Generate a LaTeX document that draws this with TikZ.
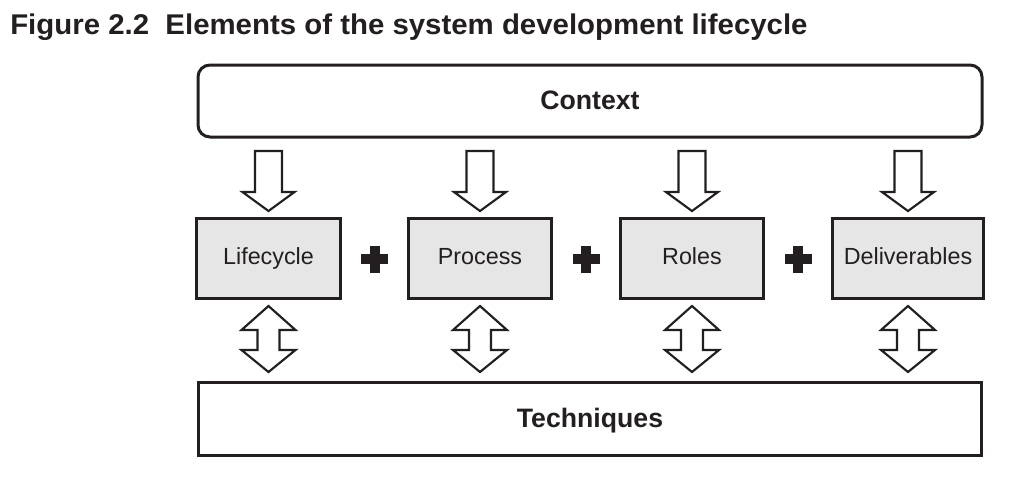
\documentclass[tikz,border=0pt]{standalone}
\usepackage{fontspec}
\setmainfont{Liberation Sans}
\usepackage{graphicx}
\definecolor{ink}{HTML}{231F20}
\definecolor{boxgray}{HTML}{E6E6E6}
\tikzset{
  elembox/.style={draw=ink, line width=2.25pt, fill=boxgray, minimum height=60pt, inner sep=0pt, font=\fontsize{17.5}{20}\selectfont, text=ink, text height=0.86em, text depth=0em},
  bigbox/.style={draw=ink, line width=2.25pt, fill=white, inner sep=0pt, font=\fontsize{20}{24}\selectfont\bfseries, text=ink, text height=1.2em, text depth=0em},
  blockarrow/.style={draw=ink, line width=1.6pt, fill=white, line join=miter},
  plusmark/.style={fill=ink, draw=none},
}
\begin{document}
\begin{tikzpicture}[x=0.75pt,y=-0.75pt]
\useasboundingbox (0,0) rectangle (1014,483);
% title
\node[anchor=base west, inner sep=0pt, text=ink] (title) at (10,34)
  {\resizebox{598pt}{15.5pt}{\fontsize{21}{25}\selectfont\bfseries Figure 2.2\ \ Elements of the system development lifecycle}};
% context and techniques
\node[bigbox, rounded corners=9pt, minimum width=588pt, minimum height=54pt] (ctx) at (590,101) {Context};
\node[bigbox, line width=2.4pt, minimum width=587.25pt, minimum height=54.75pt] (tech) at (590,419) {Techniques};
% element boxes
\node[elembox, minimum width=108pt] (L) at (268.5,258.5) {Lifecycle};
\node[elembox, minimum width=107.25pt] (P) at (480,258.5) {Process};
\node[elembox, minimum width=107.25pt] (R) at (692,258.5) {Roles};
\node[elembox, minimum width=113.25pt] (D) at (908,258.5) {Deliverables};
% down arrows from context
\foreach \x in {268.5,480,692,908}{
  \draw[blockarrow] (\x-13.5,151) -- (\x+13.5,151) -- (\x+13.5,192) -- (\x+26,192)
    -- (\x,211) -- (\x-26,192) -- (\x-13.5,192) -- cycle;
}
% double arrows to techniques
\foreach \x in {268.5,480,692,908}{
  \draw[blockarrow] (\x,306) -- (\x+27,330) -- (\x+11,330) -- (\x+11,350) -- (\x+27,350)
    -- (\x,372) -- (\x-27,350) -- (\x-11,350) -- (\x-11,330) -- (\x-27,330) -- cycle;
}
% plus signs
\foreach \x in {374.5,586,798}{
  \fill[plusmark] (\x-13.5,254) rectangle (\x+13.5,264);
  \fill[plusmark] (\x-5,245.5) rectangle (\x+5,272.5);
}
\end{tikzpicture}
\end{document}
